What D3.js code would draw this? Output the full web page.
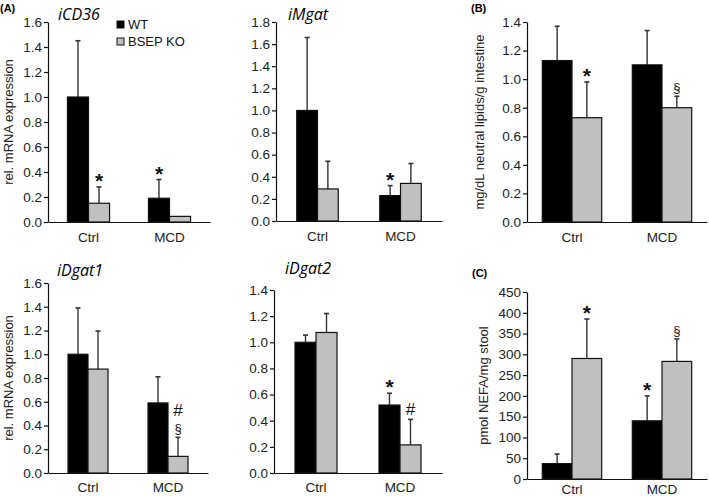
<!DOCTYPE html>
<html>
<head>
<meta charset="utf-8">
<script src="https://cdn.jsdelivr.net/npm/d3@7"></script>
<style>
  body { margin: 0; background: #fff; }
  svg { display: block; font-family: "Liberation Sans", Arial, sans-serif; }
  .title { font-family: "Open Sans", sans-serif; font-style: italic; font-size: 16px; }
  .tick text { font-size: 13.5px; fill: #222; }
</style>
</head>
<body>
<svg width="709" height="496"></svg>
<script>
// groups and series
const groups = ["Ctrl", "MCD"];
const series = ["WT", "BSEP KO"];

// iCD36
const cd36Mean = [[1.0, 0.15], [0.19, 0.045]];
const cd36Err = [[0.45, 0.13], [0.15, 0]];
const cd36Mark = [["", "*"], ["*", ""]];
// iMgat
const mgatMean = [[1.0, 0.29], [0.23, 0.34]];
const mgatErr = [[0.66, 0.25], [0.09, 0.18]];
const mgatMark = [["", ""], ["*", ""]];
// neutral lipids
const lipMean = [[1.13, 0.73], [1.10, 0.80]];
const lipErr = [[0.24, 0.25], [0.24, 0.08]];
const lipMark = [["", "*"], ["", "§"]];
// iDgat1
const dgat1Mean = [[1.0, 0.875], [0.59, 0.14]];
const dgat1Err = [[0.39, 0.32], [0.22, 0.16]];
const dgat1Mark = [["", ""], ["", "#\n§"]];
// iDgat2
const dgat2Mean = [[1.0, 1.075], [0.52, 0.215]];
const dgat2Err = [[0.055, 0.145], [0.09, 0.195]];
const dgat2Mark = [["", ""], ["*", "#"]];
// NEFA
const nefaMean = [[37, 290], [140, 283]];
const nefaErr = [[23, 95], [60, 54]];
const nefaMark = [["", "*"], ["*", "§"]];

const colors = ["#000000", "#c0c0c0"];
const svg = d3.select("svg");

const drawPanel = (p) => {
  const y = d3.scaleLinear().domain([0, p.max]).range([p.bottom, p.top]);
  const x = d3.scaleBand().domain(groups).range([p.left, p.right])
    .paddingInner(p.pad).paddingOuter(p.pad / 2);
  const xs = d3.scaleBand().domain(series).range([0, x.bandwidth()]);

  const g = svg.append("g");

  // bars
  groups.forEach((grp, gi) => {
    series.forEach((s, si) => {
      const bx = x(grp) + xs(s);
      const v = p.mean[gi][si];
      const e = p.err[gi][si];
      const cx = bx + xs.bandwidth() / 2;
      if (e > 0) {
        g.append("line")
          .attr("x1", cx).attr("x2", cx)
          .attr("y1", y(v)).attr("y2", y(v + e))
          .attr("stroke", "#333").attr("stroke-width", 1.4);
        g.append("line")
          .attr("x1", cx - 2.5).attr("x2", cx + 2.5)
          .attr("y1", y(v + e)).attr("y2", y(v + e))
          .attr("stroke", "#333").attr("stroke-width", 1.6);
      }
      g.append("rect")
        .attr("x", bx).attr("width", xs.bandwidth())
        .attr("y", y(v)).attr("height", y(0) - y(v))
        .attr("fill", colors[si])
        .attr("stroke", "#111").attr("stroke-width", 1.2);

      const mark = p.mark[gi][si];
      if (mark) {
        const lines = mark.split("\n");
        const top = y(v + e);
        lines.reverse().forEach((m, li) => {
          g.append("text")
            .attr("x", cx)
            .attr("y", (m === "*" ? top + 1 : top - 4) - li * 17)
            .attr("text-anchor", "middle")
            .attr("font-size", m === "§" ? "13px" : m === "*" ? "21px" : "17px")
            .attr("font-weight", m === "*" ? "bold" : "normal")
            .attr("fill", "#111")
            .text(m);
        });
      }
    });
  });

  const yAxis = d3.axisLeft(y).tickValues(d3.range(0, p.max + p.step / 2, p.step))
    .tickFormat(d3.format(p.fmt)).tickSize(4).tickSizeOuter(0);
  const ya = g.append("g").attr("transform", `translate(${p.left},0)`).call(yAxis);
  ya.selectAll("path, line").attr("stroke", "#111").attr("stroke-width", 1.2);
  ya.selectAll("text").attr("x", -6);

  const xAxis = d3.axisBottom(x).tickSize(0).tickSizeOuter(0).tickPadding(p.labPad);
  const xa = g.append("g").attr("transform", `translate(0,${p.bottom})`).call(xAxis);
  xa.select(".domain").attr("stroke", "#111").attr("stroke-width", 1.2);
  xa.selectAll("text").attr("font-size", "14px");

  if (p.title) {
    g.append("text").attr("class", "title")
      .attr("x", p.titleX).attr("y", p.titleY).text(p.title);
  }
  if (p.ylabel) {
    g.append("text")
      .attr("transform", `translate(${p.ylabelX},${(p.top + p.bottom) / 2}) rotate(-90)`)
      .attr("text-anchor", "middle")
      .attr("font-size", "13px")
      .attr("fill", "#222")
      .text(p.ylabel);
  }
};

drawPanel({ mean: cd36Mean, err: cd36Err, mark: cd36Mark, max: 1.6, step: 0.2, fmt: ".1f",
  left: 48, right: 210, top: 22, bottom: 222, pad: 0.48, labPad: 10,
  title: "iCD36", titleX: 58, titleY: 20, ylabel: "rel. mRNA expression", ylabelX: 13 });
drawPanel({ mean: mgatMean, err: mgatErr, mark: mgatMark, max: 1.8, step: 0.2, fmt: ".1f",
  left: 276, right: 442, top: 22, bottom: 221, pad: 0.5, labPad: 10,
  title: "iMgat", titleX: 288, titleY: 20 });
drawPanel({ mean: lipMean, err: lipErr, mark: lipMark, max: 1.4, step: 0.2, fmt: ".1f",
  left: 527, right: 707, top: 22, bottom: 222, pad: 0.34, labPad: 10,
  ylabel: "mg/dL neutral lipids/g intestine", ylabelX: 484 });
drawPanel({ mean: dgat1Mean, err: dgat1Err, mark: dgat1Mark, max: 1.6, step: 0.2, fmt: ".1f",
  left: 48, right: 208, top: 283, bottom: 473, pad: 0.5, labPad: 9,
  title: "iDgat1", titleX: 57, titleY: 276, ylabel: "rel. mRNA expression", ylabelX: 13 });
drawPanel({ mean: dgat2Mean, err: dgat2Err, mark: dgat2Mark, max: 1.4, step: 0.2, fmt: ".1f",
  left: 274, right: 442, top: 290, bottom: 473, pad: 0.5, labPad: 9,
  title: "iDgat2", titleX: 285, titleY: 274 });
drawPanel({ mean: nefaMean, err: nefaErr, mark: nefaMark, max: 450, step: 50, fmt: "d",
  left: 527, right: 707, top: 292, bottom: 479, pad: 0.34, labPad: 5,
  ylabel: "pmol NEFA/mg stool", ylabelX: 488 });

// panel letters
[["(A)", 0, 12], ["(B)", 471, 12], ["(C)", 472, 277]].forEach(([t, px, py]) => {
  svg.append("text").attr("x", px).attr("y", py)
    .attr("font-size", "11px").attr("font-weight", "bold").text(t);
});

// legend
series.forEach((s, i) => {
  svg.append("rect").attr("x", 117).attr("y", 21 + i * 17).attr("width", 7).attr("height", 7)
    .attr("fill", colors[i]).attr("stroke", "#111").attr("stroke-width", 1);
  svg.append("text").attr("x", 128).attr("y", 29 + i * 17)
    .attr("font-size", "13px").attr("fill", "#111").text(s);
});
</script>
</body>
</html>
